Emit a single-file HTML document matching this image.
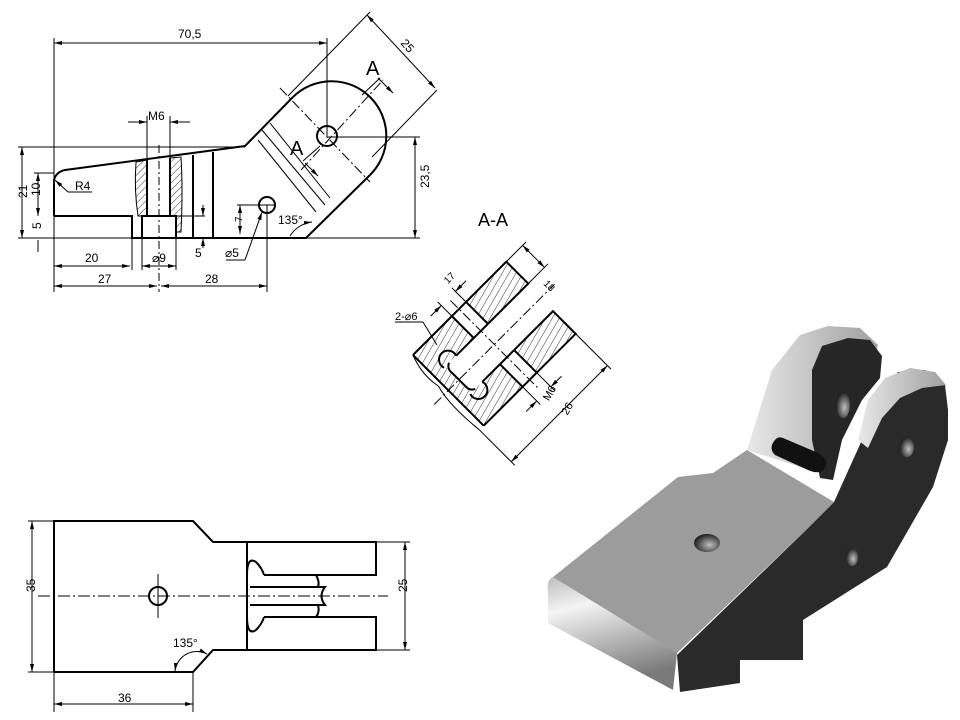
<!DOCTYPE html>
<html><head><meta charset="utf-8"><style>
html,body{margin:0;padding:0;background:#fff;}
svg{display:block;}
text{font-family:"Liberation Sans",sans-serif;fill:#000;}
</style></head><body>
<svg width="960" height="720" viewBox="0 0 960 720" xmlns="http://www.w3.org/2000/svg">
<defs>
<marker id="ar" markerWidth="8" markerHeight="6" refX="8" refY="3" orient="auto-start-reverse" markerUnits="userSpaceOnUse"><path d="M0,1 L8,3 L0,5z" fill="#000"/></marker>
<pattern id="hat" width="5" height="5" patternUnits="userSpaceOnUse" patternTransform="rotate(45)"><line x1="0" y1="0" x2="0" y2="5" stroke="#000" stroke-width="0.8"/></pattern>
<pattern id="hat2" width="6" height="6" patternUnits="userSpaceOnUse" patternTransform="rotate(-15)"><line x1="0" y1="0" x2="6" y2="0" stroke="#000" stroke-width="0.8"/></pattern>
<linearGradient id="front" x1="0" y1="0" x2="0.3" y2="1"><stop offset="0" stop-color="#bdbdbd"/><stop offset="0.3" stop-color="#f4f4f4"/><stop offset="1" stop-color="#7a7a7a"/></linearGradient>
<linearGradient id="lug" x1="0" y1="0" x2="1" y2="0"><stop offset="0" stop-color="#e8e8e8"/><stop offset="1" stop-color="#a0a0a0"/></linearGradient>
<radialGradient id="hole" cx="0.6" cy="0.6" r="0.6"><stop offset="0" stop-color="#c0c0c0"/><stop offset="1" stop-color="#202020"/></radialGradient>
</defs>

<!-- ===== FRONT VIEW ===== -->
<g fill="none" stroke="#000" stroke-width="1">
 <g stroke-width="2">
  <path d="M54,216 L132,216 L132,238 L306,238 L370,175"/>
  <path d="M54,216 L54,180 Q56,172 65,170 L245,146 L293,97"/>
  <path d="M293,97 A50,50 0 0 1 370,175"/>
  <circle cx="327" cy="136" r="10"/>
  <circle cx="267" cy="205" r="8"/>
  <path d="M142,238 L142,216 L176,216 L176,238"/>
  <line x1="147" y1="160" x2="147" y2="216"/>
  <line x1="170" y1="158" x2="170" y2="216"/>
  <line x1="193" y1="155" x2="193" y2="238"/>
  <line x1="213" y1="152" x2="213" y2="238"/>
 </g>
 <path d="M136,162 L147,160 L147,216 L138,216 Q134,190 136,162z" fill="url(#hat)"/>
 <path d="M170,158 L181,157 Q183,190 181,232 L176,232 L176,216 L170,216z" fill="url(#hat)"/>
 <line x1="176" y1="216" x2="205" y2="216"/>
 <line x1="262" y1="130" x2="325" y2="205"/>
 <line x1="258" y1="140" x2="316" y2="212"/>
 <line x1="270" y1="123" x2="330" y2="198"/>
 <line x1="280" y1="88" x2="370" y2="182" stroke-dasharray="10,3,2,3"/>
 <line x1="301" y1="170" x2="383" y2="80" stroke-dasharray="10,3,2,3"/>
 <path d="M305,163 L318,176" marker-end="url(#ar)"/>
 <path d="M378,78 L393,93" marker-end="url(#ar)"/>
 <line x1="303" y1="161" x2="320" y2="146"/>
 <line x1="362" y1="95" x2="380" y2="78"/>
 <line x1="159" y1="145" x2="159" y2="292" stroke-dasharray="8,3,2,3"/>
 <line x1="54" y1="38" x2="54" y2="292"/>
 <line x1="327" y1="38" x2="327" y2="136"/>
 <line x1="54" y1="43" x2="327" y2="43" marker-start="url(#ar)" marker-end="url(#ar)"/>
 <line x1="18" y1="147" x2="245" y2="147"/>
 <line x1="18" y1="238" x2="306" y2="238"/>
 <line x1="22" y1="147" x2="22" y2="238" marker-start="url(#ar)" marker-end="url(#ar)"/>
 <line x1="34" y1="173" x2="54" y2="173"/>
 <line x1="38" y1="173" x2="38" y2="216" marker-start="url(#ar)" marker-end="url(#ar)"/>
 <line x1="38" y1="240" x2="38" y2="252"/>
 <line x1="327" y1="137" x2="420" y2="137"/>
 <line x1="306" y1="238" x2="420" y2="238"/>
 <line x1="415" y1="137" x2="415" y2="238" marker-start="url(#ar)" marker-end="url(#ar)"/>
 <line x1="132" y1="238" x2="132" y2="270"/>
 <line x1="54" y1="266" x2="130" y2="266" marker-start="url(#ar)" marker-end="url(#ar)"/>
 <line x1="142" y1="238" x2="142" y2="270"/><line x1="176" y1="238" x2="176" y2="270"/>
 <line x1="142" y1="266" x2="176" y2="266" marker-start="url(#ar)" marker-end="url(#ar)"/>
 <line x1="54" y1="286" x2="157" y2="286" marker-start="url(#ar)" marker-end="url(#ar)"/>
 <line x1="161" y1="286" x2="267" y2="286" marker-start="url(#ar)" marker-end="url(#ar)"/>
 <line x1="267" y1="205" x2="267" y2="292"/>
 <line x1="147" y1="116" x2="147" y2="160"/><line x1="170" y1="116" x2="170" y2="158"/>
 <line x1="128" y1="122" x2="147" y2="122" marker-end="url(#ar)"/>
 <line x1="190" y1="122" x2="170" y2="122" marker-end="url(#ar)"/>
 <line x1="237" y1="205" x2="275" y2="205"/>
 <line x1="240" y1="205" x2="240" y2="234" marker-start="url(#ar)" marker-end="url(#ar)"/>
 <line x1="203" y1="205" x2="203" y2="216" marker-end="url(#ar)"/>
 <line x1="203" y1="248" x2="203" y2="238" marker-end="url(#ar)"/>
 <line x1="245" y1="260" x2="262" y2="212" marker-end="url(#ar)"/>
 <line x1="226" y1="260" x2="245" y2="260"/>
 <line x1="55" y1="180" x2="68" y2="192" marker-start="url(#ar)"/>
 <line x1="68" y1="192" x2="92" y2="192"/>
 <path d="M290,236 A30,30 0 0 1 312,222" marker-end="url(#ar)"/>
 <line x1="370" y1="12" x2="288" y2="96"/>
 <line x1="437" y1="90" x2="372" y2="157"/>
 <line x1="367" y1="15" x2="435" y2="88" marker-start="url(#ar)" marker-end="url(#ar)"/>
</g>
<g font-size="12">
 <text x="178" y="38">70,5</text>
 <text x="148" y="120">M6</text>
 <text x="75" y="190">R4</text>
 <text x="20" y="205" transform="rotate(-90 20 198)">21</text>
 <text x="36" y="200" transform="rotate(-90 36 196)">10</text>
 <text x="36" y="234" transform="rotate(-90 36 229)">5</text>
 <text x="412" y="205" transform="rotate(-90 412 188)">23,5</text>
 <text x="85" y="262">20</text>
 <text x="152" y="262">⌀9</text>
 <text x="98" y="283">27</text>
 <text x="205" y="283">28</text>
 <text x="195" y="257">5</text>
 <text x="225" y="257">⌀5</text>
 <text x="234" y="230" font-size="10" transform="rotate(-90 234 222)">7</text>
 <text x="278" y="224">135°</text>
 <text x="398" y="48" transform="rotate(48 404 48)">25</text>
 <text x="366" y="75" font-size="20" font-family="Liberation Serif">A</text>
 <text x="290" y="155" font-size="20" font-family="Liberation Serif">A</text>
 <text x="478" y="226" font-size="18">A-A</text>
</g>

<!-- ===== SECTION A-A ===== -->
<g transform="matrix(0.707,-0.707,0.707,0.707,413,355)" fill="none" stroke="#000">
 <path d="M0,0 L132,0 L132,31 L15,31 L15,68 L130,68 L130,100 L0,100z" fill="url(#hat2)" stroke="none"/>
 <rect x="55" y="0" width="20" height="31" fill="#fff" stroke="none"/>
 <rect x="55" y="68" width="20" height="32" fill="#fff" stroke="none"/>
 <g stroke-width="2">
  <path d="M0,0 L132,0 L132,31 L75,31"/>
  <path d="M75,68 L130,68 L130,100 L0,100"/>
  <path d="M20,31 A8,8 0 0 0 15,40 L15,60 A8,8 0 0 0 20,68"/>
  <path d="M13,31 A9,9 0 1 1 30,31"/>
  <path d="M13,68 A9,9 0 1 0 30,68"/>
  <line x1="55" y1="0" x2="55" y2="31"/><line x1="75" y1="0" x2="75" y2="31"/>
  <line x1="55" y1="68" x2="55" y2="100"/><line x1="75" y1="68" x2="75" y2="100"/>
  <line x1="30" y1="31" x2="75" y2="31"/><line x1="30" y1="68" x2="75" y2="68"/>
  <line x1="0" y1="0" x2="0" y2="100"/>
 </g>
 <path d="M0,0 Q-8,20 -4,40 Q-10,60 -6,100" stroke-width="1"/>
 <line x1="-20" y1="50" x2="150" y2="50" stroke-dasharray="10,3,2,3"/>
 <line x1="65" y1="-12" x2="65" y2="112" stroke-dasharray="10,3,2,3"/>
 <line x1="132" y1="0" x2="160" y2="0"/><line x1="132" y1="31" x2="160" y2="31"/>
 <line x1="155" y1="0" x2="155" y2="31" marker-start="url(#ar)" marker-end="url(#ar)"/>
 <line x1="130" y1="100" x2="130" y2="150"/><line x1="-6" y1="100" x2="-6" y2="150"/>
 <line x1="-6" y1="145" x2="130" y2="145" marker-start="url(#ar)" marker-end="url(#ar)"/>
 <line x1="55" y1="100" x2="55" y2="125"/><line x1="75" y1="100" x2="75" y2="125"/>
 <line x1="40" y1="120" x2="55" y2="120" marker-end="url(#ar)"/>
 <line x1="90" y1="120" x2="75" y2="120" marker-end="url(#ar)"/>
 <line x1="55" y1="0" x2="55" y2="-20"/><line x1="75" y1="0" x2="75" y2="-20"/>
 <line x1="40" y1="-15" x2="55" y2="-15" marker-end="url(#ar)"/>
 <line x1="90" y1="-15" x2="75" y2="-15" marker-end="url(#ar)"/>
</g>
<g fill="none" stroke="#000"><line x1="395" y1="322" x2="423" y2="322"/><line x1="423" y1="322" x2="437" y2="345"/></g>
<g font-size="11">
 <text x="395" y="320">2-⌀6</text>
 <text x="444" y="281" font-size="10" transform="rotate(-45 450 278)">17</text>
 <text x="543" y="290" font-size="10" transform="rotate(45 550 287)">18</text>
 <text x="541" y="398" font-size="11" transform="rotate(-60 548 393)">M6</text>
 <text x="560" y="413" font-size="11" transform="rotate(-60 566 408)">26</text>
</g>

<!-- ===== TOP VIEW ===== -->
<g fill="none" stroke="#000" stroke-width="2">
 <path d="M54,672 L54,521 L193,521 L213,542 L376,542 L376,575 L264,575"/>
 <path d="M264,617 L376,617 L376,650 L213,650 L193,672 L54,672"/>
 <line x1="247" y1="542" x2="247" y2="650"/>
 <path d="M264,575 Q262,568 256,562 Q247,556 247,575 M264,617 Q262,624 256,630 Q247,636 247,617"/>
 <path d="M250,587 L325,587 Q318,596 325,605 L250,605"/>
 <line x1="264" y1="575" x2="316" y2="575"/><path d="M316,575 Q320,582 318,587 M318,605 Q320,612 316,617"/>
 <circle cx="158" cy="596" r="9"/>
</g>
<g fill="none" stroke="#000" stroke-width="1">
 <line x1="38" y1="596" x2="388" y2="596" stroke-dasharray="12,3,2,3"/>
 <line x1="158" y1="574" x2="158" y2="618"/>
 <line x1="28" y1="521" x2="54" y2="521"/><line x1="28" y1="672" x2="54" y2="672"/>
 <line x1="32" y1="521" x2="32" y2="672" marker-start="url(#ar)" marker-end="url(#ar)"/>
 <line x1="376" y1="542" x2="410" y2="542"/><line x1="376" y1="650" x2="410" y2="650"/>
 <line x1="405" y1="542" x2="405" y2="650" marker-start="url(#ar)" marker-end="url(#ar)"/>
 <line x1="54" y1="672" x2="54" y2="712"/><line x1="193" y1="672" x2="193" y2="712"/>
 <line x1="54" y1="704" x2="193" y2="704" marker-start="url(#ar)" marker-end="url(#ar)"/>
 <path d="M175,671 A22,22 0 0 1 207,654" marker-start="url(#ar)" marker-end="url(#ar)"/>
</g>
<g font-size="12">
 <text x="33" y="604" transform="rotate(-90 28 597)">35</text>
 <text x="405" y="604" transform="rotate(-90 400 597)">25</text>
 <text x="118" y="702">36</text>
 <text x="173" y="647">135°</text>
</g>

<!-- ===== 3D VIEW ===== -->
<g>
 <!-- back lug -->
 <path d="M747,450 L772,370 L800,335 L828,326 L860,328 L878,345 L872,365 L850,395 L826,445 L810,470z" fill="url(#lug)"/>
 <path d="M822,346 L848,338 L870,340 L882,356 L880,378 L862,400 L842,440 L833,480 L820,478 L812,440 L812,370z" fill="#262626"/>
 <ellipse cx="843" cy="405" rx="7" ry="13" fill="url(#hole)"/>
 <!-- right lug -->
 <path d="M834,502 L862,440 L876,395 L898,372 L925,370 L945,385 L948,410 L948,440 L933,487 L887,567 L803,620 L803,660 L740,660 L740,683 L680,692 L677,655 L803,533z" fill="#2a2a2a"/>
 <path d="M858,440 L868,400 L885,378 L910,368 L935,372 L946,385 L922,388 L900,398 L882,418 L868,448z" fill="url(#lug)"/>
 <ellipse cx="907" cy="447" rx="7" ry="10" fill="url(#hole)"/>
 <ellipse cx="852" cy="557" rx="6" ry="9" fill="url(#hole)"/>
 <!-- slot -->
 <path d="M775,440 Q768,448 775,455 L808,470 Q822,476 826,466 Q828,458 816,452 L783,438 Q778,436 775,440z" fill="#111"/>
 <!-- top face -->
 <path d="M553,577 L678,477 L713,473 L747,450 L834,502 L803,533 L677,653 L553,585z" fill="#9c9c9c"/>
 <ellipse cx="707" cy="543" rx="13" ry="9" fill="url(#hole)"/>
 <!-- front rounded face -->
 <path d="M553,577 Q546,580 548,592 L548,623 L673,690 L677,653 z" fill="url(#front)"/>
</g>
</svg>
</body></html>
